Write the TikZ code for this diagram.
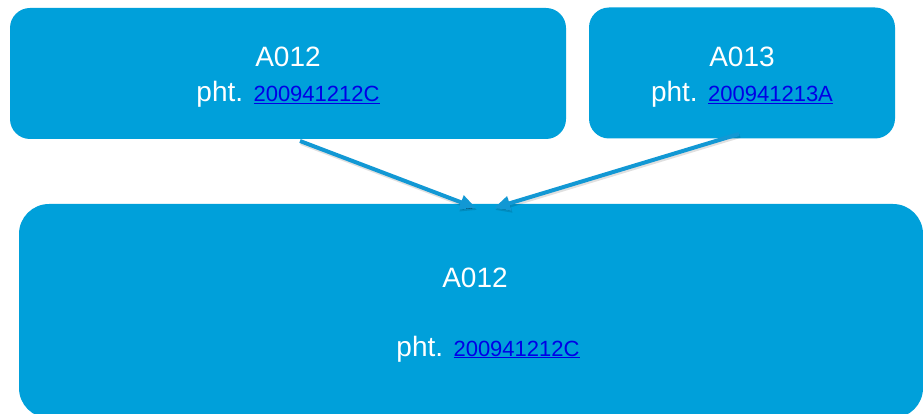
\documentclass[tikz,border=0pt]{standalone}
\usepackage{fontspec}
\setmainfont{Liberation Sans}
\usetikzlibrary{arrows.meta}
\definecolor{boxblue}{RGB}{0,160,218}
\definecolor{arrowblue}{RGB}{18,152,212}
\definecolor{linkblue}{RGB}{0,0,230}
\newcommand{\lnk}[1]{{\fontsize{22}{26}\selectfont\color{linkblue}\underline{#1}}}
\tikzset{
  box/.style={fill=boxblue, draw=none, rounded corners=20pt, inner sep=0pt},
  lbl/.style={text=white, font=\fontsize{28}{34}\selectfont, anchor=base, inner sep=0pt},
  conn/.style={draw=arrowblue, line width=4pt, -{Triangle[length=16pt,width=14pt]}},
  shade/.style={draw=black, draw opacity=0.12, line width=4pt, -{Triangle[length=16pt,width=14pt]}}
}
\begin{document}
\begin{tikzpicture}[x=1pt,y=-1pt]
\useasboundingbox (0,0) rectangle (923,414);
\clip (0,0) rectangle (923,414);
\node[box, minimum width=556pt, minimum height=131pt] (tl) at (288,73.5) {};
\node[box, minimum width=306pt, minimum height=131pt] (tr) at (742,73) {};
\node[box, rounded corners=30pt, minimum width=904pt, minimum height=214pt] (bt) at (471,311) {};

\node[lbl] (tlA) at (288,67) {A012};
\node[lbl] (tlP) at (288,102) {pht. \lnk{200941212C}};
\node[lbl] (trA) at (742,67) {A013};
\node[lbl] (trP) at (742,102) {pht. \lnk{200941213A}};
\node[lbl] (btA) at (475,287) {A012};
\node[lbl] (btP) at (488,356) {pht. \lnk{200941212C}};

\coordinate (s1) at (300,141);
\coordinate (e1) at (476,208);
\coordinate (s2) at (739,134);
\coordinate (e2) at (494,208);
\coordinate (s1s) at (301,143);
\coordinate (e1s) at (477,210);
\coordinate (s2s) at (740,136);
\coordinate (e2s) at (495,210);
\draw[shade] (s1s) -- (e1s);
\draw[shade] (s2s) -- (e2s);
\draw[conn] (s1) -- (e1);
\draw[conn] (s2) -- (e2);
\end{tikzpicture}
\end{document}
